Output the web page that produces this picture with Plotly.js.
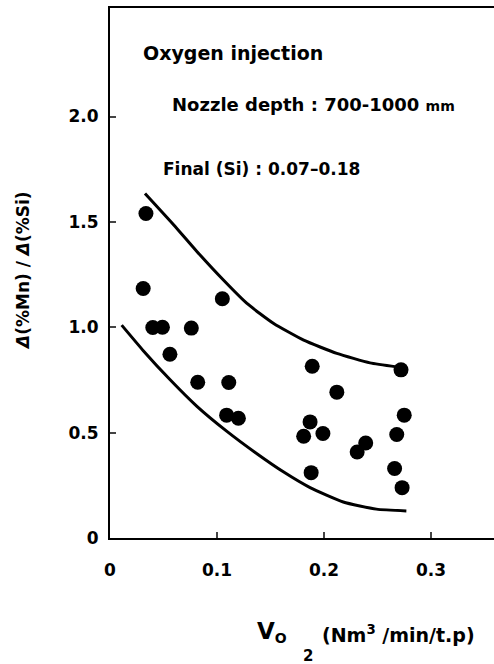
<!DOCTYPE html>
<html><head><meta charset="utf-8">
<script src="https://cdn.plot.ly/plotly-3.0.1.min.js"></script>
<style>html,body{margin:0;padding:0;background:#fff}#c{width:494px;height:664px}</style>
</head><body><div id="c"></div>
<script>
const ptX = [0.031,0.0336,0.040,0.049,0.056,0.076,0.082,0.105,0.109,0.111,0.120,0.181,0.187,0.188,0.189,0.199,0.212,0.231,0.239,0.266,0.268,0.272,0.273,0.275];
const ptY = [1.184,1.540,0.999,1.000,0.872,0.996,0.739,1.135,0.583,0.738,0.568,0.483,0.551,0.310,0.815,0.496,0.692,0.408,0.451,0.330,0.491,0.798,0.239,0.583];
const upX = [0.0327,0.0592,0.081,0.106,0.128,0.153,0.181,0.212,0.243,0.268];
const upY = [1.635,1.488,1.361,1.224,1.113,1.018,0.939,0.876,0.831,0.812];
const loX = [0.0109,0.0311,0.056,0.081,0.109,0.137,0.162,0.187,0.218,0.249,0.277];
const loY = [1.010,0.889,0.752,0.626,0.507,0.401,0.314,0.239,0.171,0.137,0.128];
const xTicks = [0,0.1,0.2,0.3];
const xTickText = ['0','0.1','0.2','0.3'];
const yTicks = [0,0.5,1.0,1.5,2.0];
const yTickText = ['0','0.5','1.0','1.5','2.0'];

const F = 'DejaVu Sans, Liberation Sans, sans-serif';
const traces = [
  {x: upX, y: upY, mode:'lines', line:{color:'#000', width:3, shape:'spline', smoothing:0.5}, hoverinfo:'skip'},
  {x: loX, y: loY, mode:'lines', line:{color:'#000', width:3, shape:'spline', smoothing:0.5}, hoverinfo:'skip'},
  {x: ptX, y: ptY, mode:'markers', marker:{color:'#000', size:15}}
];
const layout = {
  width:494, height:664, showlegend:false,
  margin:{l:110, r:0, t:8, b:126},
  paper_bgcolor:'#fff', plot_bgcolor:'#fff',
  font:{family:F, color:'#000'},
  xaxis:{range:[0,0.3589], showgrid:false, zeroline:false, showline:true, linewidth:2, linecolor:'#000', mirror:true,
    ticks:'inside', ticklen:6, tickwidth:2, tickvals:xTicks, ticktext:xTickText, ticklabelstandoff:16,
    tickfont:{family:F, size:17, color:'#000', weight:'bold'}},
  yaxis:{range:[0,2.515], showgrid:false, zeroline:false, showline:true, linewidth:2, linecolor:'#000',
    ticks:'inside', ticklen:6, tickwidth:2, tickvals:yTicks, ticktext:yTickText, ticklabelstandoff:6,
    tickfont:{family:F, size:17, color:'#000', weight:'bold'}},
  annotations:[
    {xref:'paper', yref:'paper', x:(141-110)/384, y:(538-53)/530, xanchor:'left', yanchor:'middle', showarrow:false,
     text:'Oxygen injection', font:{family:F, size:19, weight:'bold'}},
    {xref:'paper', yref:'paper', x:(170-110)/384, y:(538-105)/530, xanchor:'left', yanchor:'middle', showarrow:false,
     text:'Nozzle depth : 700-1000 <span style="font-size:14px">mm</span>', font:{family:F, size:18, weight:'bold'}},
    {xref:'paper', yref:'paper', x:(161-110)/384, y:(538-169)/530, xanchor:'left', yanchor:'middle', showarrow:false,
     text:'Final (Si) : 0.07\u20130.18', font:{family:F, size:17, weight:'bold'}},
    {xref:'paper', yref:'paper', x:-(110-23)/384, y:(538-271)/530, xanchor:'center', yanchor:'middle', showarrow:false, textangle:-90,
     text:'<i>\u0394</i>(%Mn) / <i>\u0394</i>(%Si)', font:{family:F, size:17, weight:'bold'}},
    {xref:'paper', yref:'paper', x:(255-110)/384, y:-(632-538)/530, xanchor:'left', yanchor:'middle', showarrow:false,
     text:'<span style="font-size:23px">V</span><sub>O</sub>', font:{family:F, size:20, weight:'bold'}},
    {xref:'paper', yref:'paper', x:(301-110)/384, y:-(656-538)/530, xanchor:'left', yanchor:'middle', showarrow:false,
     text:'2', font:{family:F, size:15, weight:'bold'}},
    {xref:'paper', yref:'paper', x:(320-110)/384, y:-(634-538)/530, xanchor:'left', yanchor:'middle', showarrow:false,
     text:'(Nm<sup>3</sup> /min/t.p)', font:{family:F, size:19, weight:'bold'}}
  ]
};
Plotly.newPlot('c', traces, layout, {staticPlot:true});
</script></body></html>
